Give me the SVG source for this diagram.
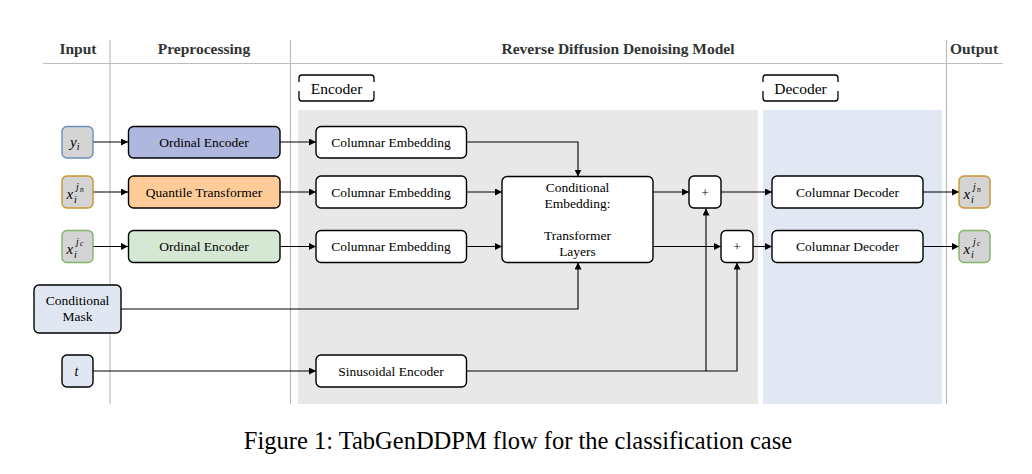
<svg xmlns="http://www.w3.org/2000/svg" width="1032" height="474" viewBox="0 0 1032 474">
<defs>
<marker id="arr" viewBox="0 0 10 10" refX="10" refY="5" markerWidth="7" markerHeight="7" markerUnits="userSpaceOnUse" orient="auto">
<path d="M0,0 L10,5 L0,10 z" fill="#000"/>
</marker>
<style>
.hdr{font-family:"Liberation Serif",serif;font-weight:bold;font-size:15.5px;fill:#333;text-anchor:middle}
.lane{stroke:#bdbdbd;stroke-width:1.2;fill:none}
.box{stroke:#000;stroke-width:1.4}
.t{font-family:"Liberation Serif",serif;font-size:13.5px;fill:#000;text-anchor:middle}
.lbl{font-family:"Liberation Serif",serif;font-size:15.5px;fill:#000;text-anchor:middle}
.m{font-family:"Liberation Serif",serif;font-style:italic;fill:#000}
.c{stroke:#000;stroke-width:1.1;fill:none}
.br{stroke:#000;stroke-width:1.3;fill:none}
</style>
</defs>
<rect width="1032" height="474" fill="#fff"/>
<!-- lanes -->
<rect x="298" y="110" width="460" height="294" fill="#e8e8e8"/>
<rect x="763" y="110" width="179" height="294" fill="#e1e7f3"/>
<line class="lane" x1="43" y1="63.5" x2="1003" y2="63.5"/>
<line class="lane" x1="110" y1="40" x2="110" y2="404"/>
<line class="lane" x1="290.5" y1="40" x2="290.5" y2="404"/>
<line class="lane" x1="946.5" y1="40" x2="946.5" y2="404"/>
<text class="hdr" x="78" y="54">Input</text>
<text class="hdr" x="204" y="54">Preprocessing</text>
<text class="hdr" x="618" y="54">Reverse Diffusion Denoising Model</text>
<text class="hdr" x="974" y="54">Output</text>
<!-- section labels -->
<g id="encoder-label">
<path class="br" d="M299,82 V78 Q299,75 302,75 H371 Q374,75 374,78 V82 M299,91 V98 Q299,101 302,101 H371 Q374,101 374,98 V91"/>
<text class="lbl" x="336.5" y="93.5">Encoder</text>
</g>
<g id="decoder-label">
<path class="br" d="M763,82 V78 Q763,75 766,75 H835 Q838,75 838,78 V82 M763,91 V98 Q763,101 766,101 H835 Q838,101 838,98 V91"/>
<text class="lbl" x="800.5" y="93.5">Decoder</text>
</g>
<!-- connectors -->
<g id="connectors">
<path class="c" d="M93,142 H128" marker-end="url(#arr)"/>
<path class="c" d="M93,192 H128" marker-end="url(#arr)"/>
<path class="c" d="M93,246.5 H128" marker-end="url(#arr)"/>
<path class="c" d="M280,142 H316" marker-end="url(#arr)"/>
<path class="c" d="M280,192 H316" marker-end="url(#arr)"/>
<path class="c" d="M280,246.5 H316" marker-end="url(#arr)"/>
<path class="c" d="M466.5,142 H578 V176.5" marker-end="url(#arr)"/>
<path class="c" d="M466.5,192 H502" marker-end="url(#arr)"/>
<path class="c" d="M466.5,246.5 H502" marker-end="url(#arr)"/>
<path class="c" d="M121,309 H578 V262.5" marker-end="url(#arr)"/>
<path class="c" d="M93,371 H316" marker-end="url(#arr)"/>
<path class="c" d="M466.5,371 H706 V208.5" marker-end="url(#arr)"/>
<path class="c" d="M706,371 H737 V262.5" marker-end="url(#arr)"/>
<path class="c" d="M653,192 H689" marker-end="url(#arr)"/>
<path class="c" d="M653,246.5 H721" marker-end="url(#arr)"/>
<path class="c" d="M721,192 H772" marker-end="url(#arr)"/>
<path class="c" d="M753,246.5 H772" marker-end="url(#arr)"/>
<path class="c" d="M923,192 H959" marker-end="url(#arr)"/>
<path class="c" d="M923,246.5 H959" marker-end="url(#arr)"/>
</g>
<!-- inputs -->
<g id="in-y">
<rect x="62" y="126.5" width="31" height="31.5" rx="5" fill="#d4d4d4" stroke="#6c8ebf" stroke-width="1.4"/>
<text class="m" x="70" y="147" font-size="15">y<tspan font-size="10" dy="3">i</tspan></text>
</g>
<g id="in-xjn">
<rect x="62" y="176" width="31" height="32" rx="5" fill="#d4d4d4" stroke="#c9972a" stroke-width="1.4"/>
<text class="m" font-size="15"><tspan x="66.5" y="199">x</tspan><tspan x="74" y="203" font-size="10">i</tspan><tspan x="76" y="190" font-size="10">j</tspan><tspan x="80" y="191.5" font-size="7.5">n</tspan></text>
</g>
<g id="in-xjc">
<rect x="62" y="230.5" width="31" height="32" rx="5" fill="#d4d4d4" stroke="#82b366" stroke-width="1.4"/>
<text class="m" font-size="15"><tspan x="66.5" y="253.5">x</tspan><tspan x="74" y="257.5" font-size="10">i</tspan><tspan x="76" y="244.5" font-size="10">j</tspan><tspan x="80" y="246" font-size="7.5">c</tspan></text>
</g>
<g id="in-mask">
<rect class="box" x="34" y="285" width="87" height="48" rx="5" fill="#e1e7f2"/>
<text class="t" x="77.5" y="305">Conditional</text>
<text class="t" x="77.5" y="321">Mask</text>
</g>
<g id="in-t">
<rect class="box" x="62" y="355" width="31" height="32" rx="5" fill="#e1e7f2"/>
<text class="m" x="74.5" y="376" font-size="14">t</text>
</g>
<!-- preprocessing -->
<g id="pre-ordinal-y">
<rect class="box" x="128.5" y="126.5" width="151.5" height="31.5" rx="5" fill="#aeb7dd"/>
<text class="t" x="204" y="146.5">Ordinal Encoder</text>
</g>
<g id="pre-quantile">
<rect class="box" x="128.5" y="176" width="151.5" height="32" rx="5" fill="#ffcc99"/>
<text class="t" x="204" y="196.5">Quantile Transformer</text>
</g>
<g id="pre-ordinal-c">
<rect class="box" x="128.5" y="230.5" width="151.5" height="32" rx="5" fill="#d5e8d4"/>
<text class="t" x="204" y="251">Ordinal Encoder</text>
</g>
<!-- encoder -->
<g id="enc-col1">
<rect class="box" x="316" y="126.5" width="150.5" height="31.5" rx="5" fill="#fff"/>
<text class="t" x="391" y="146.5">Columnar Embedding</text>
</g>
<g id="enc-col2">
<rect class="box" x="316" y="176" width="150.5" height="32" rx="5" fill="#fff"/>
<text class="t" x="391" y="196.5">Columnar Embedding</text>
</g>
<g id="enc-col3">
<rect class="box" x="316" y="230.5" width="150.5" height="32" rx="5" fill="#fff"/>
<text class="t" x="391" y="251">Columnar Embedding</text>
</g>
<g id="cond-emb">
<rect class="box" x="502" y="176.5" width="151" height="86" rx="5" fill="#fff"/>
<text class="t" x="577.5" y="192">Conditional</text>
<text class="t" x="577.5" y="208">Embedding:</text>
<text class="t" x="577.5" y="240">Transformer</text>
<text class="t" x="577.5" y="256">Layers</text>
</g>
<g id="sin-enc">
<rect class="box" x="316" y="355" width="150.5" height="32" rx="5" fill="#fff"/>
<text class="t" x="391" y="375.5">Sinusoidal Encoder</text>
</g>
<g id="plus1">
<rect class="box" x="689" y="176" width="32" height="32" rx="5" fill="#fff"/>
<text class="t" x="705" y="196.5">+</text>
</g>
<g id="plus2">
<rect class="box" x="721" y="230.5" width="32" height="32" rx="5" fill="#fff"/>
<text class="t" x="737" y="251">+</text>
</g>
<!-- decoder -->
<g id="dec1">
<rect class="box" x="772" y="176" width="151" height="32" rx="5" fill="#fff"/>
<text class="t" x="847.5" y="196.5">Columnar Decoder</text>
</g>
<g id="dec2">
<rect class="box" x="772" y="230.5" width="151" height="32" rx="5" fill="#fff"/>
<text class="t" x="847.5" y="251">Columnar Decoder</text>
</g>
<!-- outputs -->
<g id="out-xjn">
<rect x="959" y="176" width="31" height="32" rx="5" fill="#d4d4d4" stroke="#c9972a" stroke-width="1.4"/>
<text class="m" font-size="15"><tspan x="963.5" y="199">x</tspan><tspan x="971" y="203" font-size="10">i</tspan><tspan x="973" y="190" font-size="10">j</tspan><tspan x="977" y="191.5" font-size="7.5">n</tspan></text>
</g>
<g id="out-xjc">
<rect x="959" y="230.5" width="31" height="32" rx="5" fill="#d4d4d4" stroke="#82b366" stroke-width="1.4"/>
<text class="m" font-size="15"><tspan x="963.5" y="253.5">x</tspan><tspan x="971" y="257.5" font-size="10">i</tspan><tspan x="973" y="244.5" font-size="10">j</tspan><tspan x="977" y="246" font-size="7.5">c</tspan></text>
</g>
<text x="518" y="449" style="font-family:'Liberation Serif',serif;font-size:24.5px;fill:#000;text-anchor:middle">Figure 1: TabGenDDPM flow for the classification case</text>
</svg>
